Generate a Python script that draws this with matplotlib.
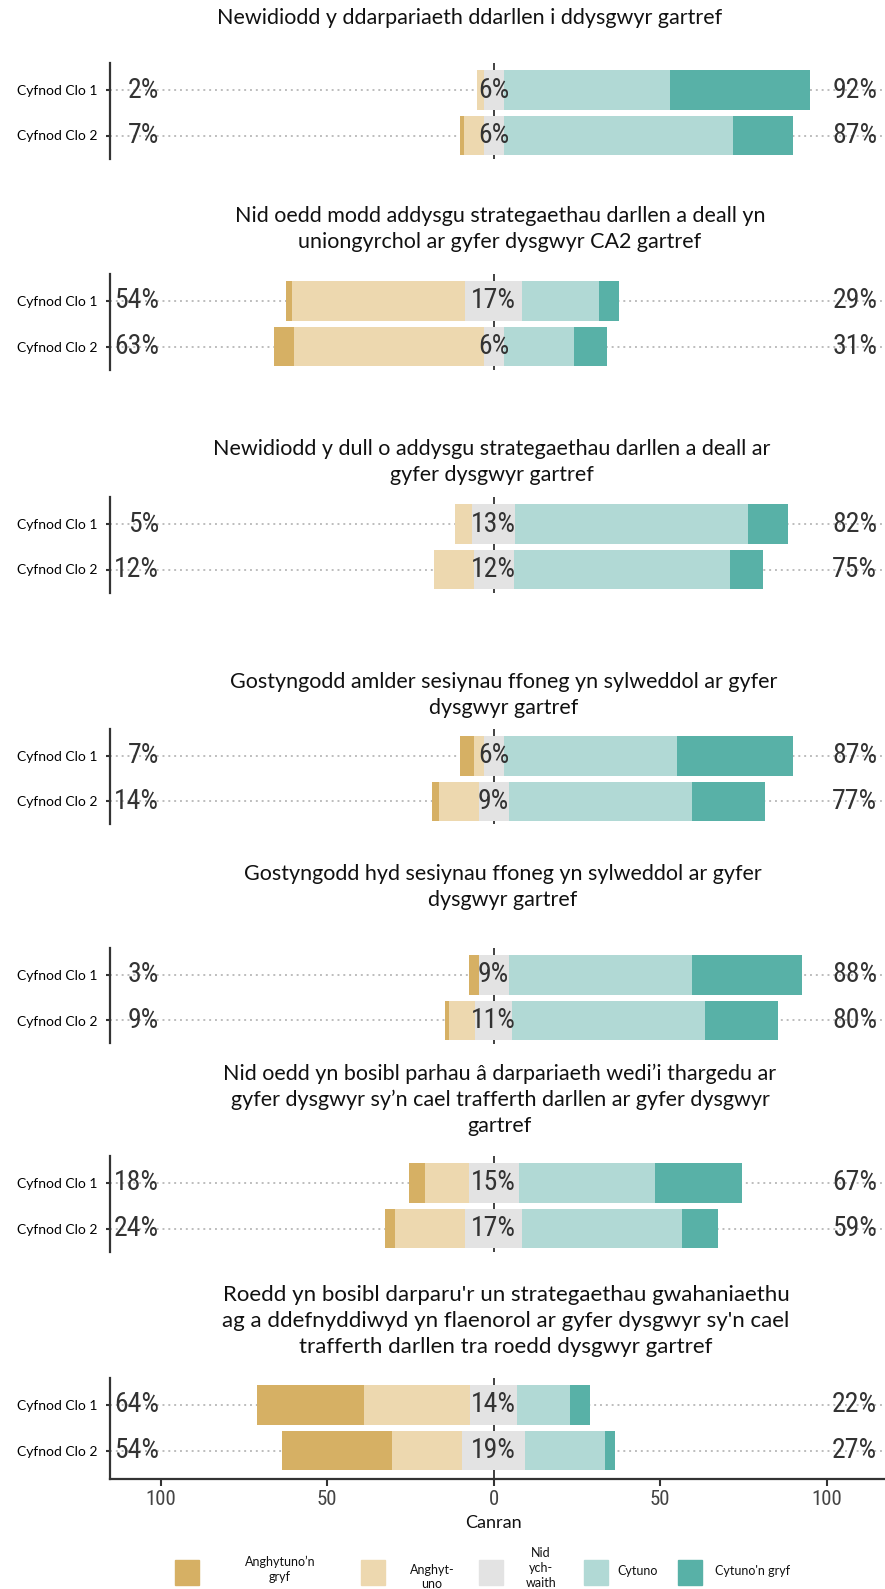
import numpy as np
import matplotlib.pyplot as plt
from matplotlib import font_manager
from matplotlib.patches import Rectangle

# statements (one panel each)
titles = [
    "Newidiodd y ddarpariaeth ddarllen i ddysgwyr gartref",
    "Nid oedd modd addysgu strategaethau darllen a deall yn\nuniongyrchol ar gyfer dysgwyr CA2 gartref",
    "Newidiodd y dull o addysgu strategaethau darllen a deall ar\ngyfer dysgwyr gartref",
    "Gostyngodd amlder sesiynau ffoneg yn sylweddol ar gyfer\ndysgwyr gartref",
    "Gostyngodd hyd sesiynau ffoneg yn sylweddol ar gyfer\ndysgwyr gartref",
    "Nid oedd yn bosibl parhau \u00e2 darpariaeth wedi\u2019i thargedu ar\ngyfer dysgwyr sy\u2019n cael trafferth darllen ar gyfer dysgwyr\ngartref",
    "Roedd yn bosibl darparu'r un strategaethau gwahaniaethu\nag a ddefnyddiwyd yn flaenorol ar gyfer dysgwyr sy'n cael\ntrafferth darllen tra roedd dysgwyr gartref",
]
periods = ["Cyfnod Clo 1", "Cyfnod Clo 2"]
legend_labels = ["Anghytuno\u2019n\ngryf", "Anghyt-\nuno", "Nid\nych-\nwaith", "Cytuno", "Cytuno'n gryf"]
colors = ["#D6B064", "#EDD8AF", "#E3E3E3", "#B1D9D5", "#58B1A7"]

# percentages per statement: [Cyfnod Clo 1, Cyfnod Clo 2]
strongly_disagree = [[0, 1], [2, 6], [0, 0], [4, 2], [3, 1], [5, 3], [32, 33]]
disagree = [[2, 6], [52, 57], [5, 12], [3, 12], [0, 8], [13, 21], [32, 21]]
neutral = [[6, 6], [17, 6], [13, 12], [6, 9], [9, 11], [15, 17], [14, 19]]
agree = [[50, 69], [23, 21], [70, 65], [52, 55], [55, 58], [41, 48], [16, 24]]
strongly_agree = [[42, 18], [6, 10], [12, 10], [35, 22], [33, 22], [26, 11], [6, 3]]

# pick a narrow face for the numbers if one is there
have = set(f.name for f in font_manager.fontManager.ttflist)
num_font = "DejaVu Sans"
for name in ["Liberation Sans Narrow", "Roboto Condensed", "Open Sans Condensed", "DejaVu Sans Condensed"]:
    if name in have:
        num_font = name
        break
narrow = num_font != "DejaVu Sans"

W, H = 885, 1589
fig = plt.figure(figsize=(W / 100, H / 100), dpi=100)

def fx(px):
    return px / W

def fy(py):
    return 1 - py / H

title_font = "Lato"
dark = "#333333"
pct_size = 20 if narrow else 15
tick_size = 15 if narrow else 12

row_top = [90, 301, 524, 756, 975, 1183, 1405]
title_mid = [18, 229, 462, 695, 887, 1100, 1321]
title_x = [470, 500, 492, 504, 503, 500, 506]
title_size = [15.5, 15.5, 15.5, 15.5, 15.5, 15.5, 16]

unit = 45.5
for i in range(len(titles)):
    r1 = row_top[i]
    last = i == len(titles) - 1
    top = r1 - 27
    bot = r1 + unit + 23 + (5 if last else 0)
    ax = fig.add_axes([fx(110), fy(bot), fx(885) - fx(110), (bot - top) / H])
    ax.set_xlim(-115.2, 117.5)
    ax.set_ylim(-(bot - r1 - unit) / unit, 1 + 27 / unit)

    sd = np.array(strongly_disagree[i])
    d = np.array(disagree[i])
    n = np.array(neutral[i])
    a = np.array(agree[i])
    sa = np.array(strongly_agree[i])
    ys = np.array([1, 0])

    for y in ys:
        ax.axhline(y, color="#BDBDBD", ls=(0, (1, 2)), lw=1.4, zorder=0)
    ax.axvline(0, color=dark, lw=1.3, zorder=0.5)

    left = -n / 2 - d - sd
    for vals, col in zip([sd, d, n, a, sa], colors):
        ax.barh(ys, vals, left=left, height=0.86, color=col, edgecolor="none", zorder=2)
        left = left + vals

    for k, y in enumerate(ys):
        ax.text(-100.5, y, "%d%%" % (sd[k] + d[k]), ha="right", va="center",
                fontsize=pct_size, family=num_font, color=dark, zorder=3)
        ax.text(0, y, "%d%%" % n[k], ha="center", va="center",
                fontsize=pct_size, family=num_font, color=dark, zorder=3)
        ax.text(115.2, y, "%d%%" % (a[k] + sa[k]), ha="right", va="center",
                fontsize=pct_size, family=num_font, color=dark, zorder=3)

    for s in ["top", "right"]:
        ax.spines[s].set_visible(False)
    ax.spines["left"].set_color(dark)
    ax.spines["left"].set_linewidth(1.6)
    ax.set_yticks(ys)
    ax.set_yticklabels(periods, family=title_font, fontsize=10)
    ax.tick_params(axis="y", length=3, width=1.5, color=dark, pad=6)
    ax.set_facecolor("none")

    if last:
        ax.spines["bottom"].set_color(dark)
        ax.spines["bottom"].set_linewidth(1.6)
        ticks = [-100, -50, 0, 50, 100]
        ax.set_xticks(ticks)
        ax.set_xticklabels([str(abs(t)) for t in ticks], family=num_font, fontsize=tick_size, color="#444444")
        ax.tick_params(axis="x", length=5, width=1.5, color=dark, pad=3)
    else:
        ax.spines["bottom"].set_visible(False)
        ax.set_xticks([])

    fig.text(fx(title_x[i]), fy(title_mid[i]), titles[i], ha="center", va="center",
             family=title_font, fontsize=title_size[i], linespacing=1.35, color="#111111")

fig.text(fx(493), fy(1523), "Canran", ha="center", va="center", family=title_font, fontsize=13, color="#111111")

# legend drawn below the last panel
patch_x = [175, 361, 479, 584, 678]
text_x = [280, 432, 541, 617, 715]
text_ha = ["center", "center", "center", "left", "left"]
text_y = [1569, 1577, 1568, 1571, 1571]
for k in range(len(legend_labels)):
    fig.patches.append(Rectangle((fx(patch_x[k]), fy(1585)), 24 / W, 25 / H,
                                 transform=fig.transFigure, color=colors[k]))
    fig.text(fx(text_x[k]), fy(text_y[k]), legend_labels[k], ha=text_ha[k], va="center",
             family=title_font, fontsize=9, linespacing=1.3, color="#111111")

plt.savefig("out.png", dpi=100)
